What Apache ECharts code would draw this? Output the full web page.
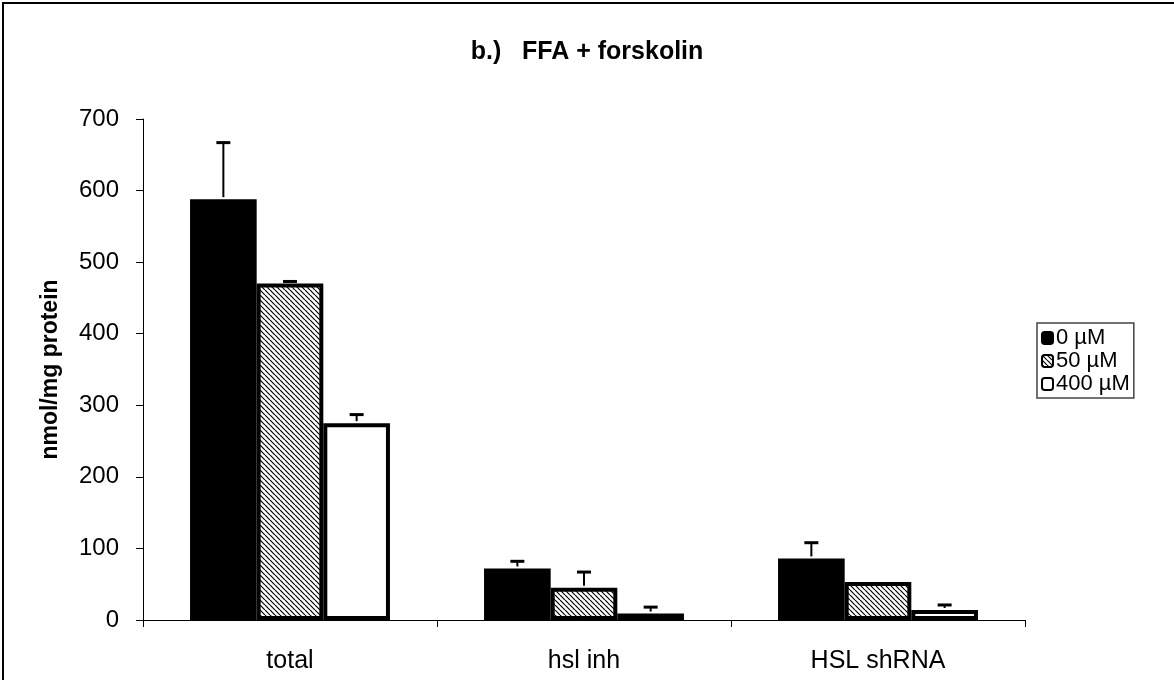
<!DOCTYPE html>
<html>
<head>
<meta charset="utf-8">
<script src="https://cdn.jsdelivr.net/npm/echarts@6/dist/echarts.min.js"></script>
<style>
html,body{margin:0;padding:0;background:#fff;}
#chart{width:1174px;height:680px;}
</style>
</head>
<body>
<div id="chart"></div>
<script>
// ---- data ----
const categories = ['total', 'hsl inh', 'HSL shRNA'];
const seriesNames = ['0 µM', '50 µM', '400 µM'];
const values0 = [588, 72, 86];
const errors0 = [79, 10, 22];
const values50 = [470, 45, 53];
const errors50 = [3, 22, 0];
const values400 = [275, 9, 14];
const errors400 = [12, 9, 7];
const yTicks = [0, 100, 200, 300, 400, 500, 600, 700];

const FONT = "'Liberation Sans', Arial, sans-serif";

// hatch pattern (diagonal lines) for 50 µM
function makeHatch() {
  const s = 5;
  const c = document.createElement('canvas');
  c.width = s; c.height = s;
  const ctx = c.getContext('2d');
  ctx.fillStyle = '#fff';
  ctx.fillRect(0, 0, s, s);
  ctx.strokeStyle = '#000';
  ctx.lineWidth = 1.2;
  ctx.beginPath();
  for (const k of [-s, 0, s]) {
    ctx.moveTo(k, 0);
    ctx.lineTo(k + s, s);
  }
  ctx.stroke();
  return c;
}
const hatch = makeHatch();

const GROUP_FRAC = 0.68;

function barSeries(name, vals, fill) {
  return {
    name: name,
    type: 'bar',
    data: vals,
    barGap: '0%',
    barCategoryGap: '32%',
    itemStyle: { color: fill, borderColor: '#000', borderWidth: 4 },
    emphasis: { disabled: true },
    z: 2
  };
}

function errSeries(idx, vals, errs) {
  return {
    name: 'err' + idx,
    type: 'custom',
    data: vals.map((v, i) => [i, v, v + errs[i]]),
    encode: { x: 0, y: [1, 2] },
    z: 5,
    silent: true,
    renderItem: function (params, api) {
      const i = api.value(0);
      const lo = api.coord([i, api.value(1)]);
      const hi = api.coord([i, api.value(2)]);
      const bw = api.size([1, 0])[0] * GROUP_FRAC / 3;
      const x = lo[0] + (idx - 1) * bw;
      if (hi[1] >= lo[1] - 0.5) return null;
      return {
        type: 'group',
        children: [
          { type: 'line', shape: { x1: x, y1: lo[1] - 2, x2: x, y2: hi[1] }, style: { stroke: '#000', lineWidth: 2 } },
          { type: 'line', shape: { x1: x - 7, y1: hi[1], x2: x + 7, y2: hi[1] }, style: { stroke: '#000', lineWidth: 3 } }
        ]
      };
    }
  };
}

const chart = echarts.init(document.getElementById('chart'), null, { renderer: 'canvas' });
chart.setOption({
  animation: false,
  backgroundColor: '#fff',
  title: {
    text: 'b.)   FFA + forskolin',
    left: 'center',
    top: 35,
    textStyle: { fontFamily: FONT, fontSize: 25, fontWeight: 'bold', color: '#000' }
  },
  graphic: [{
    type: 'rect',
    shape: { x: 3, y: 3, width: 1180, height: 700 },
    style: { fill: 'none', stroke: '#000', lineWidth: 2 },
    z: 100
  }],
  legend: {
    data: seriesNames,
    orient: 'vertical',
    left: 1037,
    top: 323,
    itemWidth: 11,
    itemHeight: 12,
    itemGap: 1,
    padding: [4, 4, 3, 4],
    backgroundColor: '#fff',
    borderColor: '#444',
    borderWidth: 1.5,
    borderRadius: 0,
    selectedMode: false,
    textStyle: { fontFamily: FONT, fontSize: 22, color: '#000', lineHeight: 19, padding: [0, 0, 0, -2] }
  },
  grid: { left: 143, right: 149, top: 119, bottom: 60, containLabel: false },
  xAxis: {
    type: 'category',
    data: categories,
    axisLine: { show: true, lineStyle: { color: '#000', width: 1 } },
    axisTick: { show: true, length: 7, lineStyle: { color: '#000' } },
    axisLabel: { fontFamily: FONT, fontSize: 25, color: '#000', margin: 29 }
  },
  yAxis: {
    type: 'value',
    min: yTicks[0],
    max: yTicks[yTicks.length - 1],
    interval: 100,
    name: 'nmol/mg protein',
    nameLocation: 'middle',
    nameRotate: 90,
    nameGap: 81,
    nameTextStyle: { fontFamily: FONT, fontSize: 23, fontWeight: 'bold', color: '#000' },
    axisLine: { show: true, lineStyle: { color: '#000', width: 1 } },
    axisTick: { show: true, length: 7, lineStyle: { color: '#000' } },
    axisLabel: { fontFamily: FONT, fontSize: 24, color: '#000', margin: 24 },
    splitLine: { show: false }
  },
  series: [
    barSeries(seriesNames[0], values0, '#000'),
    barSeries(seriesNames[1], values50, { image: hatch, repeat: 'repeat' }),
    barSeries(seriesNames[2], values400, '#fff'),
    errSeries(0, values0, errors0),
    errSeries(1, values50, errors50),
    errSeries(2, values400, errors400)
  ]
});
</script>
</body>
</html>
